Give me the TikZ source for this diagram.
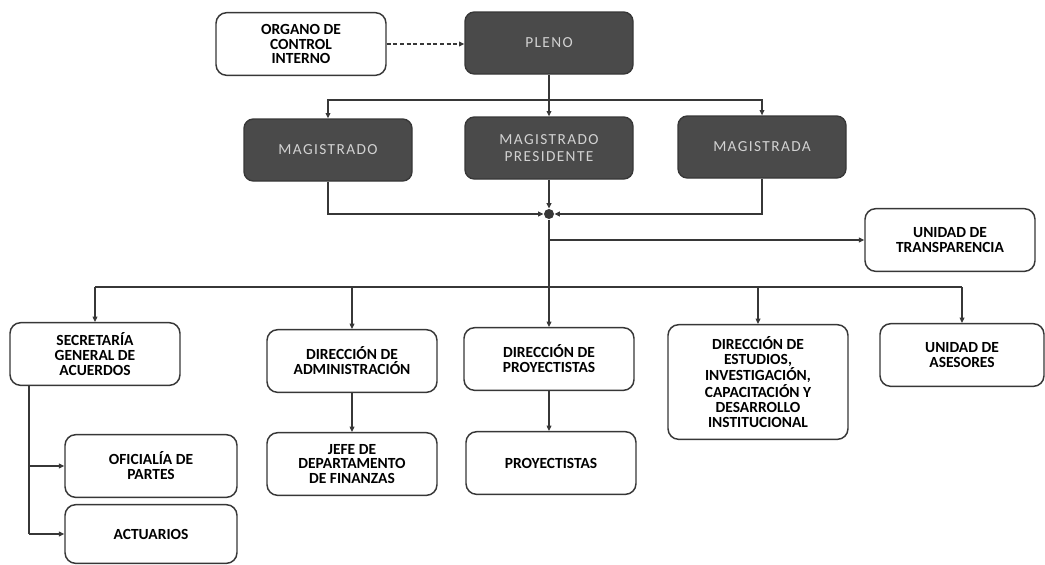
\documentclass[tikz,border=0pt]{standalone}
\usepackage{fontspec}
\setmainfont{Carlito}
\usetikzlibrary{arrows.meta}
\definecolor{darkbox}{RGB}{74,74,74}
\definecolor{lighttext}{RGB}{210,210,210}
\definecolor{linegray}{RGB}{55,55,55}
\tikzset{every picture/.style={line width=0.75pt}}
\tikzset{
  whitebox/.style={draw=linegray,line width=1.1pt,rounded corners=8pt,fill=white,align=center,inner sep=2pt,
    font=\fontsize{11.6}{11.2}\selectfont\bfseries,minimum width=127.5pt,minimum height=47pt},
  darkbox/.style={draw=linegray,line width=1pt,rounded corners=7pt,fill=darkbox,text=lighttext,align=center,inner sep=2pt,
    font=\fontsize{11.5}{12.5}\selectfont\addfontfeatures{LetterSpace=9},minimum width=126pt,minimum height=46.5pt},
  arr/.style={draw=linegray,line width=0.8pt,-{Triangle[length=4pt,width=3.6pt]}},
  conn/.style={draw=linegray,line width=0.8pt}
}

\begin{document}
\begin{tikzpicture}[x=0.75pt,y=0.75pt,yscale=-1,xscale=1]
\useasboundingbox (0,0) rectangle (1045,564);
% Top level
\node [whitebox] (organo) at (301,44) {ORGANO DE\\CONTROL\\INTERNO};
\node [darkbox] (pleno) at (549,43) {PLENO};
% Magistrates
\node [darkbox] (magistrado) at (328,150) {MAGISTRADO};
\node [darkbox] (presidente) at (549,148) {MAGISTRADO\\PRESIDENTE};
\node [darkbox] (magistrada) at (762,147) {MAGISTRADA};
\node [circle,fill=linegray,inner sep=0pt,minimum size=7.5pt] (dot) at (549,214) {};
% Second level
\node [whitebox] (transparencia) at (950,240) {UNIDAD DE\\TRANSPARENCIA};
\node [whitebox] (secretaria) at (95,354) {SECRETAR\'IA\\GENERAL DE\\ACUERDOS};
\node [whitebox] (administracion) at (352,361) {DIRECCI\'ON DE\\ADMINISTRACI\'ON};
\node [whitebox] (dirproy) at (549,359) {DIRECCI\'ON DE\\PROYECTISTAS};
\node [whitebox,minimum width=135pt,minimum height=86pt] (estudios) at (758,382) {DIRECCI\'ON DE\\ESTUDIOS,\\INVESTIGACI\'ON,\\CAPACITACI\'ON Y\\DESARROLLO\\INSTITUCIONAL};
\node [whitebox,minimum width=123pt] (asesores) at (962,355) {UNIDAD DE\\ASESORES};
% Third level
\node [whitebox] (finanzas) at (352,464) {JEFE DE\\DEPARTAMENTO\\DE FINANZAS};
\node [whitebox] (proyectistas) at (551,463) {PROYECTISTAS};
\node [whitebox,minimum width=129pt] (oficialia) at (151,466) {OFICIAL\'IA DE\\PARTES};
\node [whitebox,minimum width=129pt,minimum height=44pt] (actuarios) at (151,534) {ACTUARIOS};
% Helper coordinates
\coordinate (fork) at (549,100);
\coordinate (bus) at (549,287);
\coordinate (sgadown) at (29,385);

% Connectors
\draw [arr,densely dashed] (organo.east) -- (organo.east -| pleno.west);
\draw [arr] (pleno.south) -- (presidente.north);
\draw [arr] (fork) -| (magistrado.north);
\draw [arr] (fork) -| (magistrada.north);
\draw [arr] (magistrado.south) |- (dot.west);
\draw [arr] (magistrada.south) |- (dot.east);
\draw [arr] (presidente.south) -- (dot.north);
\draw [arr] (dot.south) -- (dirproy.north);
\draw [arr] (dot |- transparencia.west) -- (transparencia.west);
\draw [conn] (secretaria.north |- bus) -- (asesores.north |- bus);
\draw [arr] (secretaria.north |- bus) -- (secretaria.north);
\draw [arr] (administracion.north |- bus) -- (administracion.north);
\draw [arr] (estudios.north |- bus) -- (estudios.north);
\draw [arr] (asesores.north |- bus) -- (asesores.north);
\draw [arr] (administracion.south) -- (finanzas.north);
\draw [arr] (dirproy.south) -- (dirproy.south |- proyectistas.north);
\draw [conn] (sgadown) -- (sgadown |- actuarios.west);
\draw [arr] (sgadown |- oficialia.west) -- (oficialia.west);
\draw [arr] (sgadown |- actuarios.west) -- (actuarios.west);
\end{tikzpicture}
\end{document}
